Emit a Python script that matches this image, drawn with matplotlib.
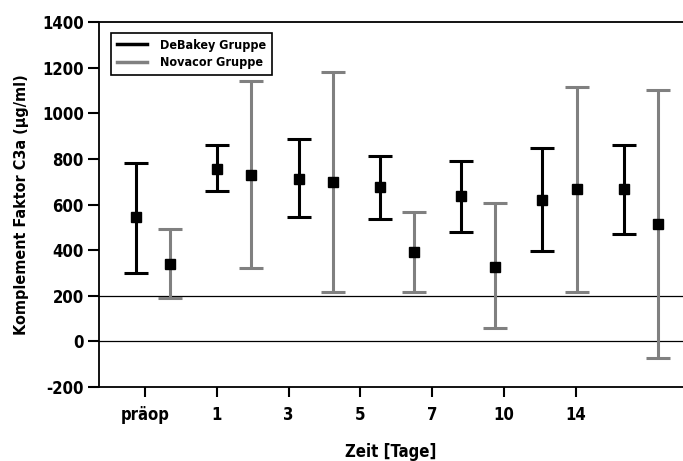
import matplotlib
matplotlib.use("Agg")
import matplotlib.pyplot as plt
import numpy as np
from matplotlib.lines import Line2D

plt.rcParams["font.family"] = ["DejaVu Sans"]
plt.rcParams["font.stretch"] = "condensed"
plt.rcParams["axes.unicode_minus"] = False

# Daten
tage = ["präop", "1", "3", "5", "7", "10", "14"]
debakey_mw = [545, 757, 714, 678, 638, 622, 668]
debakey_lo = [300, 659, 545, 536, 479, 396, 470]
debakey_hi = [781, 860, 887, 812, 790, 847, 860]
novacor_mw = [340, 730, 697, 391, 328, 668, 515]
novacor_lo = [190, 321, 216, 216, 58, 216, -73]
novacor_hi = [492, 1142, 1180, 567, 606, 1115, 1101]

C_DEB = "black"
C_NOV = "#808080"
FW = "bold"

fig = plt.figure(figsize=(6.83, 4.61), dpi=100)
ax = fig.add_axes([0.145, 0.1605, 0.855, 0.7915])

idx = np.arange(len(tage))
x_deb = idx - 0.21
x_nov = idx + 0.21

def draw(x, mw, lo, hi, color):
    mw = np.asarray(mw, float)
    err = [mw - np.asarray(lo), np.asarray(hi) - mw]
    ax.errorbar(x, mw, yerr=err, fmt="none", ecolor=color, elinewidth=2.2,
                capsize=8.5, capthick=2.2, zorder=3)
    ax.plot(x, mw, "s", color="black", ms=7.5, zorder=4)

draw(x_deb, debakey_mw, debakey_lo, debakey_hi, C_DEB)
draw(x_nov, novacor_mw, novacor_lo, novacor_hi, C_NOV)

for yv in (0, 200):
    ax.axhline(yv, color="black", lw=0.9, zorder=1)

ax.set_xlim(-0.664, 6.519)
ax.set_ylim(-200, 1400)
ax.set_yticks(range(-200, 1401, 200))
ax.set_xticks([])
ax.spines["right"].set_visible(False)
for s in ("left", "bottom", "top"):
    ax.spines[s].set_linewidth(1.3)
ax.tick_params(axis="y", direction="out", length=8, width=1.5, pad=3,
               labelsize=12)
for lab in ax.get_yticklabels():
    lab.set_fontweight(FW)
ax.set_ylabel("Komplement Faktor C3a (µg/ml)", fontsize=11.5, fontweight=FW,
              labelpad=9)

# Kategorien-Achse für die Zeitpunkte
axt = ax.twiny()
axt.set_xlim(-0.641, 7.493)
axt.xaxis.set_ticks_position("bottom")
axt.xaxis.set_label_position("bottom")
axt.set_xticks(idx)
axt.set_xticklabels(tage, fontsize=12, fontweight=FW)
axt.tick_params(axis="x", direction="out", length=7, width=1.5, pad=7)
axt.set_xlabel("Zeit [Tage]", fontsize=12, fontweight=FW, labelpad=13)
for s in axt.spines.values():
    s.set_visible(False)

handles = [Line2D([], [], color=C_DEB, lw=2.5), Line2D([], [], color=C_NOV, lw=2.5)]
leg = ax.legend(handles, ["DeBakey Gruppe", "Novacor Gruppe"], loc="upper left",
                bbox_to_anchor=(0.0205, 0.970), borderaxespad=0, fancybox=False,
                framealpha=1, edgecolor="black", fontsize=9, handlelength=2.4,
                borderpad=0.45, labelspacing=0.35, handletextpad=1.1)
leg.get_frame().set_linewidth(1.2)
for t in leg.get_texts():
    t.set_fontweight(FW)

fig.savefig("out.png", dpi=100)
